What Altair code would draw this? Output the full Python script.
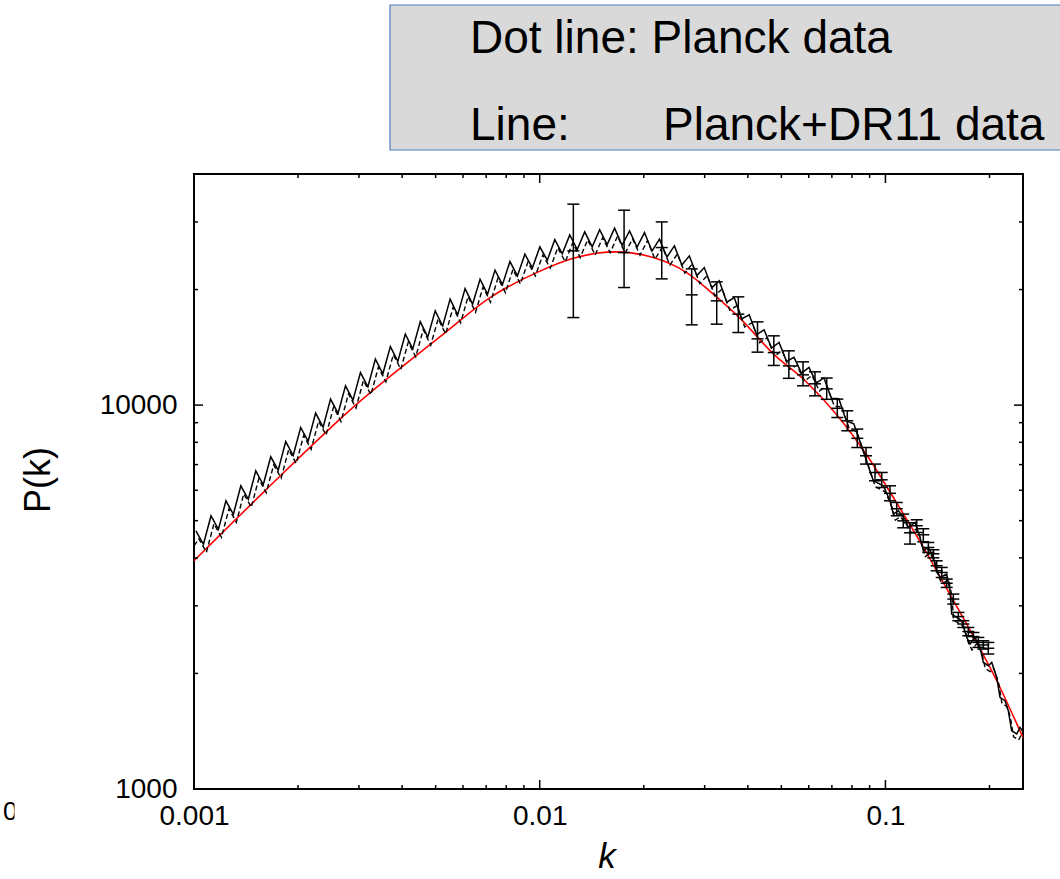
import altair as alt
import pandas as pd

# ---------------- data ----------------
red_k = [0.001, 0.001623, 0.002955, 0.005262, 0.007181, 0.0098, 0.01251, 0.01651, 0.02131,
         0.02661, 0.03178, 0.03797, 0.04739, 0.05920, 0.07228, 0.08829, 0.1078, 0.1287,
         0.1504, 0.1796, 0.2099, 0.25]
red_p = [3931, 6043, 10060, 15305, 19060, 22140, 24120, 25070, 24230, 22140, 19450, 16830,
         13600, 11470, 9441, 7413, 5559, 4266, 3327, 2500, 1914, 1361]

solid_peak_k = [0.001013, 0.001120, 0.001237, 0.001366, 0.001509, 0.001667, 0.001842, 0.002035,
                0.002248, 0.002483, 0.002743, 0.003030, 0.003347, 0.003698, 0.004085, 0.004513,
                0.004985, 0.005507, 0.006084, 0.006721, 0.007424, 0.008202, 0.009060, 0.010009,
                0.011057, 0.012215, 0.013494, 0.014907, 0.016467, 0.018191, 0.020096, 0.022200,
                0.024524, 0.027092, 0.029928, 0.033062, 0.036524, 0.040348, 0.044572, 0.049239,
                0.054394, 0.060089, 0.066380, 0.073330, 0.081008]
solid_peak_p = [4706, 5149, 5633, 6163, 6744, 7334, 8038, 8744, 9533, 10366, 11229, 12159, 13177,
                14210, 15307, 16508, 17603, 18880, 20119, 21286, 22470, 23660, 24729, 25835, 26977,
                27765, 28268, 28643, 28900, 28438, 28151, 27058, 25989, 24479, 22819, 21071, 19064,
                17187, 15708, 14571, 13320, 12543, 11779, 10385, 8940]
solid_valley_k = [0.001065, 0.001177, 0.001300, 0.001436, 0.001586, 0.001752, 0.001936, 0.002139,
                  0.002363, 0.002610, 0.002883, 0.003185, 0.003518, 0.003887, 0.004294, 0.004744,
                  0.005240, 0.005789, 0.006395, 0.007065, 0.007803, 0.008621, 0.009523, 0.010520,
                  0.011622, 0.012839, 0.014184, 0.015669, 0.017309, 0.019121, 0.021123, 0.023334,
                  0.025777, 0.028476, 0.031457, 0.034752, 0.038390, 0.042410, 0.046850, 0.051755,
                  0.057174, 0.063160, 0.069772, 0.077077, 0.085148]
solid_valley_p = [4340, 4749, 5195, 5684, 6202, 6770, 7392, 8049, 8764, 9513, 10302, 11161, 12065,
                  13004, 14015, 15032, 16073, 17183, 18319, 19450, 20598, 21707, 22788, 23856, 24792,
                  25433, 25835, 26182, 26085, 25805, 25172, 24300, 23163, 21758, 20230, 18535, 16777,
                  15265, 14085, 13002, 12118, 11424, 10418, 9098, 7854]
solid_tail_k = [0.09226, 0.09860, 0.1031, 0.1054, 0.1090, 0.1139, 0.1165, 0.1218, 0.1259, 0.1287,
                0.1331, 0.1376, 0.1407, 0.1439, 0.1504, 0.1538, 0.1555, 0.1608, 0.1662, 0.1719,
                0.1757, 0.1816, 0.1878, 0.1919, 0.1984, 0.2030, 0.2099, 0.2145, 0.2218, 0.2267,
                0.2318, 0.2398, 0.2451, 0.2500]
solid_tail_p = [6352, 6163, 5633, 5202, 5306, 5048, 4800, 4946, 4522, 4175, 4258, 4009, 3702, 3556,
                3630, 3284, 2856, 2798, 2744, 2482, 2386, 2482, 2338, 2137, 2095, 2137, 1953, 1732,
                1698, 1599, 1418, 1391, 1447, 1410]

dash_peak_k = [0.001033, 0.001142, 0.001262, 0.001393, 0.001539, 0.001700, 0.001879, 0.002076,
               0.002293, 0.002533, 0.002798, 0.003091, 0.003414, 0.003772, 0.004167, 0.004603,
               0.005085, 0.005617, 0.006206, 0.006855, 0.007572, 0.008366, 0.009241, 0.010209,
               0.011278, 0.012459, 0.013764, 0.015205, 0.016796, 0.018555, 0.020498, 0.022644,
               0.025014, 0.027634, 0.030527, 0.033723, 0.037254, 0.041155, 0.045463, 0.050224,
               0.055482, 0.061291, 0.067708, 0.074797, 0.082628]
dash_peak_p = [4485, 4907, 5368, 5873, 6427, 6989, 7660, 8333, 9085, 9879, 10701, 11588, 12558,
               13542, 14588, 15732, 16776, 17993, 19173, 20286, 21414, 22548, 23567, 24621, 25709,
               26460, 26939, 27297, 27542, 27101, 26828, 25786, 24768, 23328, 21747, 20081, 18168,
               16379, 14970, 13886, 12694, 11953, 11225, 9897, 8520]
dash_valley_k = [0.001, 0.001086, 0.001201, 0.001326, 0.001465, 0.001618, 0.001787, 0.001975,
                 0.002182, 0.002410, 0.002662, 0.002941, 0.003249, 0.003588, 0.003965, 0.004380,
                 0.004839, 0.005345, 0.005905, 0.006523, 0.007206, 0.007959, 0.008793, 0.009713,
                 0.010730, 0.011854, 0.013096, 0.014468, 0.015982, 0.017655, 0.019503, 0.021545,
                 0.023801, 0.026293, 0.029046, 0.032086, 0.035447, 0.039158, 0.043258, 0.047787,
                 0.052790, 0.058317, 0.064423, 0.071167, 0.078619, 0.086851]
dash_valley_p = [4301, 4136, 4526, 4951, 5417, 5911, 6452, 7045, 7671, 8352, 9066, 9818, 10636,
                 11498, 12393, 13356, 14325, 15318, 16375, 17458, 18536, 19630, 20687, 21717, 22735,
                 23627, 24238, 24621, 24951, 24859, 24592, 23989, 23158, 22074, 20735, 19279, 17664,
                 15989, 14548, 13423, 12391, 11548, 10887, 9928, 8670, 7485]
dash_tail_k = [0.09346, 0.09988, 0.1044, 0.1068, 0.1104, 0.1154, 0.1180, 0.1234, 0.1275, 0.1304,
               0.1348, 0.1394, 0.1425, 0.1458, 0.1524, 0.1558, 0.1575, 0.1629, 0.1684, 0.1741,
               0.1780, 0.1840, 0.1902, 0.1944, 0.2010, 0.2056, 0.2126, 0.2173, 0.2247, 0.2296,
               0.2348, 0.2429, 0.2483]
dash_tail_p = [6130, 5947, 5436, 5020, 5120, 4871, 4632, 4773, 4364, 4029, 4109, 3869, 3572, 3432,
               3503, 3169, 2756, 2700, 2648, 2395, 2302, 2395, 2256, 2062, 2022, 2062, 1885, 1671,
               1639, 1543, 1368, 1342, 1396]

err_k = [0.01251, 0.01754, 0.02254, 0.02752, 0.03251, 0.03754, 0.04266, 0.04755, 0.05256, 0.05776,
         0.06256, 0.06763, 0.07258, 0.07757, 0.08291, 0.08788, 0.09331, 0.09757, 0.1031, 0.1078,
         0.1126, 0.1178, 0.1232, 0.1287, 0.1331, 0.1376, 0.1407, 0.1455, 0.1504, 0.1572, 0.1625,
         0.1680, 0.1737, 0.1796, 0.1857, 0.1919, 0.1984]
err_p = [25223, 24969, 25728, 19374, 18690, 17258, 14883, 13709, 12654, 11991, 11364, 11026, 9811,
         9102, 8195, 7379, 6676, 6390, 5892, 5370, 4995, 4649, 4850, 4594, 4258, 4100, 3815, 3665,
         3435, 3125, 2813, 2690, 2572, 2495, 2409, 2373, 2326]
err_hi = [33380, 32196, 30007, 22642, 20945, 19143, 16477, 15152, 13849, 12965, 12210, 11766, 10366,
          9665, 8660, 7754, 7021, 6676, 6163, 5577, 5202, 4937, 5027, 4764, 4387, 4200, 3931, 3777,
          3523, 3220, 2884, 2744, 2635, 2557, 2482, 2433, 2409]
err_lo = [16907, 20244, 21325, 16184, 16251, 15456, 13740, 12686, 11744, 11229, 10573, 10354, 9284,
          8574, 7754, 7021, 6352, 6101, 5633, 5149, 4791, 4345, 4658, 4406, 4132, 4002, 3702, 3556,
          3350, 3032, 2744, 2635, 2507, 2433, 2338, 2315, 2247]

x_major = [0.001, 0.01, 0.1]
x_minor = [0.002, 0.003, 0.004, 0.005, 0.006, 0.007, 0.008, 0.009,
           0.02, 0.03, 0.04, 0.05, 0.06, 0.07, 0.08, 0.09, 0.2]
y_major = [1000, 10000]
y_minor = [2000, 3000, 4000, 5000, 6000, 7000, 8000, 9000, 20000, 30000]

legend_line1 = "Dot line: Planck data"
legend_line2a = "Line:"
legend_line2b = "Planck+DR11 data"
x_title = "k"
y_title = "P(k)"

# ---------------- chart ----------------
W, H = 829, 615
FONT = "Liberation Sans"

xscale = alt.Scale(type="log", domain=[0.001, 0.25], nice=False)
yscale = alt.Scale(type="log", domain=[1000, 40000], nice=False)
xaxis = alt.Axis(values=x_major, format="~g", ticks=False, tickSize=0, domain=False, grid=False,
                 labelFlush=False, labelOverlap=False,
                 labelFont=FONT, labelFontSize=28, labelColor="black", labelPadding=13,
                 title=x_title, titleFont=FONT, titleFontSize=35, titleFontStyle="italic",
                 titleFontWeight="normal", titleColor="black", titleX=W / 2 - 2, titleY=78,
                 titleBaseline="alphabetic", titleAlign="center")
yaxis = alt.Axis(values=y_major, format="d", ticks=False, tickSize=0, domain=False, grid=False,
                 labelFlush=False, labelOverlap=False,
                 labelFont=FONT, labelFontSize=28, labelColor="black", labelPadding=17,
                 title=y_title, titleFont=FONT, titleFontSize=36, titleFontWeight="normal",
                 titleColor="black", titleAngle=270, titleX=-156, titleY=H / 2 - 2,
                 titleAlign="center", titleBaseline="middle")


def X(field="k"):
    return alt.X(f"{field}:Q", scale=xscale, axis=xaxis)


def Y(field="p"):
    return alt.Y(f"{field}:Q", scale=yscale, axis=yaxis)


red_df = pd.DataFrame({"k": red_k, "p": red_p})
solid_df = pd.DataFrame({"k": solid_peak_k + solid_valley_k + solid_tail_k,
                         "p": solid_peak_p + solid_valley_p + solid_tail_p}).sort_values("k")
dash_df = pd.DataFrame({"k": dash_peak_k + dash_valley_k + dash_tail_k,
                        "p": dash_peak_p + dash_valley_p + dash_tail_p}).sort_values("k")
err_df = pd.DataFrame({"k": err_k, "p": err_p, "lo": err_lo, "hi": err_hi})

one = pd.DataFrame({"a": [0]})

LF = 46
box = alt.Chart(one).mark_rect(fill="#d9d9d9", stroke="#4a7ebb", strokeWidth=1.2).encode(
    x=alt.value(196), x2=alt.value(900), y=alt.value(-169), y2=alt.value(-24))
t1 = alt.Chart(one).mark_text(text=legend_line1, align="left", baseline="alphabetic",
                              font=FONT, fontSize=LF, color="black").encode(
    x=alt.value(276), y=alt.value(-121))
t2 = alt.Chart(one).mark_text(text=legend_line2a, align="left", baseline="alphabetic",
                              font=FONT, fontSize=LF, color="black").encode(
    x=alt.value(276), y=alt.value(-34))
t3 = alt.Chart(one).mark_text(text=legend_line2b, align="left", baseline="alphabetic",
                              font=FONT, fontSize=LF, color="black").encode(
    x=alt.value(469), y=alt.value(-34))
stray = alt.Chart(one).mark_text(text="0", align="left", baseline="middle",
                                 font=FONT, fontSize=26, color="black").encode(
    x=alt.value(-191), y=alt.value(638))
stray_cover = alt.Chart(one).mark_rect(fill="white").encode(
    x=alt.value(-179.5), x2=alt.value(-170), y=alt.value(620), y2=alt.value(656))

red = alt.Chart(red_df).mark_line(color="#ff0000", strokeWidth=1.6, interpolate="monotone",
                                  clip=True).encode(x=X(), y=Y())
solid = alt.Chart(solid_df).mark_line(color="black", strokeWidth=1.5, clip=True).encode(
    x=X(), y=Y())
dash = alt.Chart(dash_df).mark_line(color="black", strokeWidth=1.4, strokeDash=[5, 3],
                                    clip=True).encode(x=X(), y=Y())

ebar = alt.Chart(err_df).mark_rule(color="black", strokeWidth=1.5).encode(
    x=X(), y=Y("lo"), y2="hi:Q")
cap_hi = alt.Chart(err_df).mark_rule(color="black", strokeWidth=1.5, xOffset=-6, x2Offset=6).encode(
    x=X(), x2="k:Q", y=Y("hi"))
cap_lo = alt.Chart(err_df).mark_rule(color="black", strokeWidth=1.5, xOffset=-6, x2Offset=6).encode(
    x=X(), x2="k:Q", y=Y("lo"))
cap_mid = alt.Chart(err_df).mark_rule(color="black", strokeWidth=1.5, xOffset=-6, x2Offset=6).encode(
    x=X(), x2="k:Q", y=Y("p"))

xmaj = pd.DataFrame({"k": x_major})
xmin = pd.DataFrame({"k": x_minor})
ymaj = pd.DataFrame({"p": y_major})
ymin = pd.DataFrame({"p": y_minor})
TK = dict(color="black", strokeWidth=1.5)
tick_layers = [
    alt.Chart(xmaj).mark_rule(**TK).encode(x=X(), y=alt.value(H), y2=alt.value(H - 9)),
    alt.Chart(xmin).mark_rule(**TK).encode(x=X(), y=alt.value(H), y2=alt.value(H - 4)),
    alt.Chart(xmaj).mark_rule(**TK).encode(x=X(), y=alt.value(0), y2=alt.value(9)),
    alt.Chart(xmin).mark_rule(**TK).encode(x=X(), y=alt.value(0), y2=alt.value(4)),
    alt.Chart(ymaj).mark_rule(**TK).encode(y=Y(), x=alt.value(0), x2=alt.value(9)),
    alt.Chart(ymin).mark_rule(**TK).encode(y=Y(), x=alt.value(0), x2=alt.value(4)),
    alt.Chart(ymaj).mark_rule(**TK).encode(y=Y(), x=alt.value(W), x2=alt.value(W - 9)),
    alt.Chart(ymin).mark_rule(**TK).encode(y=Y(), x=alt.value(W), x2=alt.value(W - 4)),
]

chart = alt.layer(
    box, t1, t2, t3, stray, stray_cover,
    red, dash, solid, ebar, cap_hi, cap_lo, cap_mid,
    *tick_layers
).properties(
    width=W, height=H,
    padding={"left": 194, "top": 174, "right": 37, "bottom": 90},
    autosize=alt.AutoSizeParams(type="none"),
    background="white",
).configure_view(stroke="black", strokeWidth=2)

chart.save("out.html", embed_options={"renderer": "svg", "actions": False})
